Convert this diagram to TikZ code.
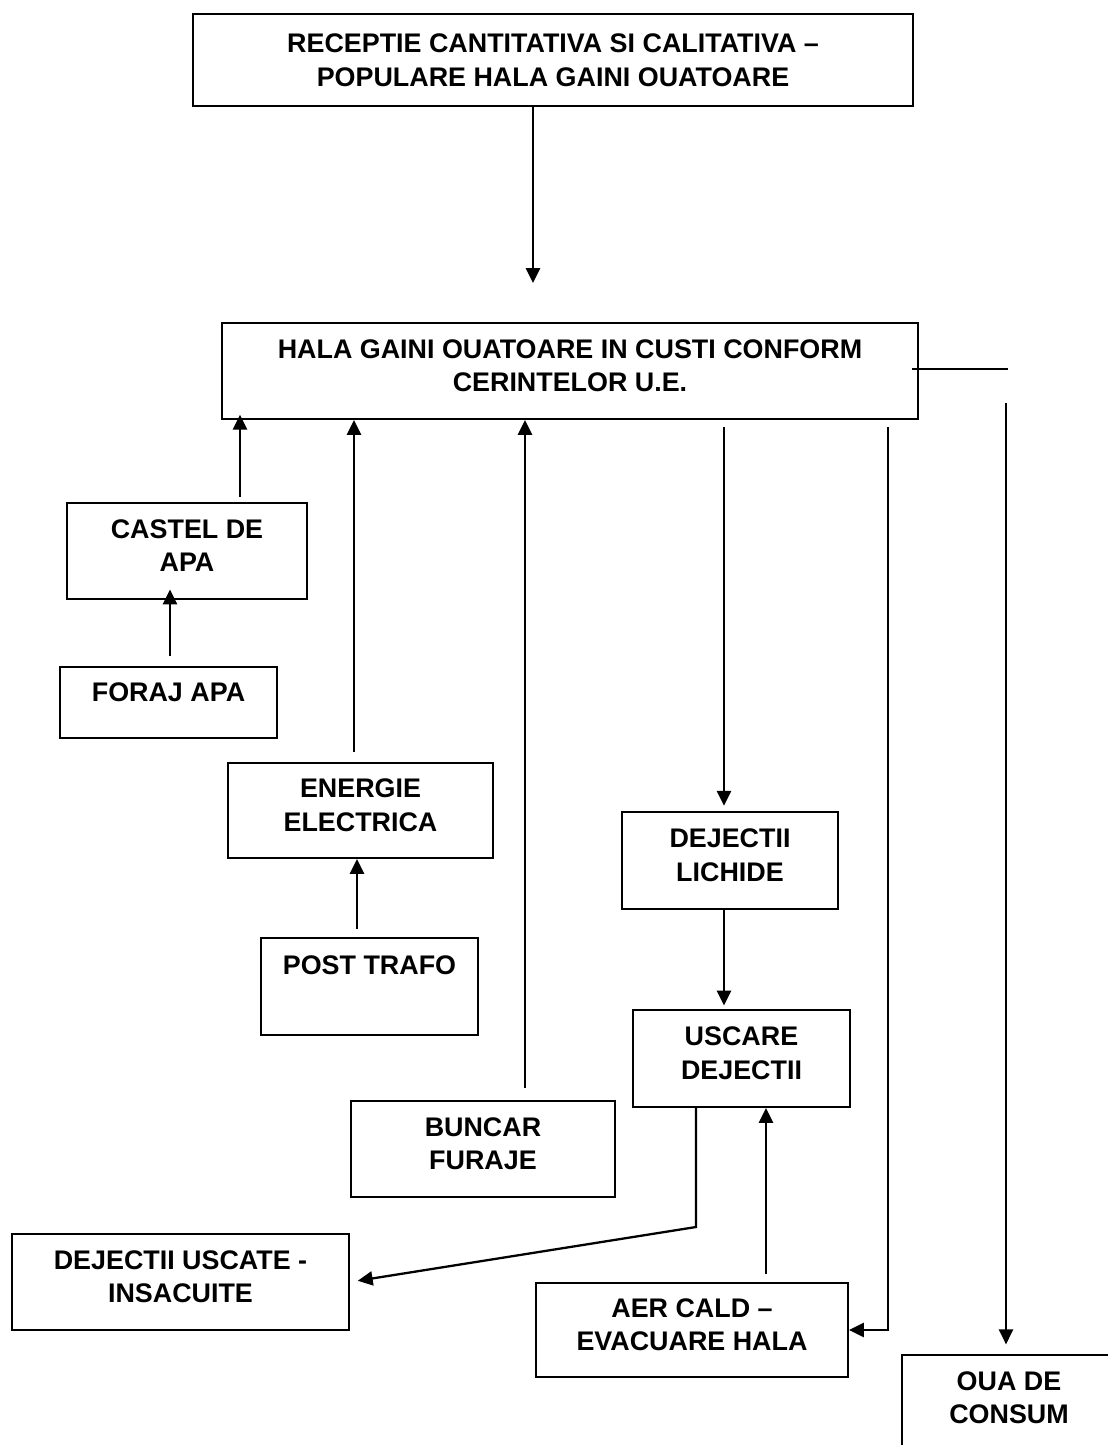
\documentclass[tikz,border=0pt]{standalone}
\usepackage{fontspec}
\setmainfont{Liberation Sans}
\usetikzlibrary{positioning, arrows.meta}
\tikzset{
    base/.style={
        font=\fontsize{15.3}{19}\selectfont\bfseries,
        align=center
    },
    box/.style={
        base,
        rectangle,
        draw=black,
        line width=1.1pt,
        inner sep=0pt,
        text depth=6pt
    },
    flow/.style={
        -{Triangle[length=8.5pt, width=8pt]},
        line width=1.3pt,
        color=black
    }
}

\begin{document}
\begin{tikzpicture}[x=0.02cm, y=-0.02cm]
  \useasboundingbox (0,0) rectangle (1107,1445);

  % Boxes
  \node[box, minimum width=14.4cm, minimum height=1.84cm, text depth=0pt] (rec) at (553,60)
      {RECEPTIE CANTITATIVA SI CALITATIVA --\\POPULARE HALA GAINI OUATOARE};
  \node[box, minimum width=13.92cm, minimum height=1.92cm] (hala) at (570,371)
      {HALA GAINI OUATOARE IN CUSTI CONFORM\\CERINTELOR U.E.};
  \node[box, minimum width=4.8cm, minimum height=1.92cm] (castel) at (187,551)
      {CASTEL DE\\APA};
  \node[box, minimum width=4.34cm, minimum height=1.42cm, text depth=12pt] (foraj) at (168.5,702.5)
      {FORAJ APA};
  \node[box, minimum width=5.3cm, minimum height=1.9cm] (energie) at (360.5,810.5)
      {ENERGIE\\ELECTRICA};
  \node[box, minimum width=4.34cm, minimum height=1.94cm, text depth=24pt] (trafo) at (369.5,986.5)
      {POST TRAFO};
  \node[box, minimum width=5.28cm, minimum height=1.92cm] (buncar) at (483,1149)
      {BUNCAR\\FURAJE};
  \node[box, minimum width=4.32cm, minimum height=1.94cm] (lichide) at (730,860.5)
      {DEJECTII\\LICHIDE};
  \node[box, minimum width=4.34cm, minimum height=1.94cm] (uscare) at (741.5,1058.5)
      {USCARE\\DEJECTII};
  \node[box, minimum width=6.74cm, minimum height=1.92cm] (uscate) at (180.5,1282)
      {DEJECTII USCATE -\\INSACUITE};
  \node[box, minimum width=6.24cm, minimum height=1.88cm] (aer) at (692,1330)
      {AER CALD --\\EVACUARE HALA};
  \node[box, minimum width=4.28cm, minimum height=1.92cm] (oua) at (1009,1403)
      {OUA DE\\CONSUM};

  % Connector columns
  \coordinate (tipRec) at (533,283);
  \coordinate (xCastel) at (240,0);
  \coordinate (xForaj) at (170,0);
  \coordinate (xEnergie) at (354,0);
  \coordinate (xTrafo) at (357,0);
  \coordinate (xBuncar) at (525,0);
  \coordinate (xLichide) at (724,0);
  \coordinate (xUscare) at (696,0);
  \coordinate (bendUscate) at (696,1227);
  \coordinate (xAer) at (766,0);
  \coordinate (xEvac) at (888,0);
  \coordinate (endOua) at (1008,369);
  \coordinate (startOua) at (1006,403);

  % Arrows
  \draw[flow] (rec.south -| tipRec) -- (tipRec);
  \draw[flow, shorten <=3pt, shorten >=-3pt] (castel.north -| xCastel) -- (hala.south -| xCastel);
  \draw[flow, shorten <=5.5pt, shorten >=-6pt] (foraj.north -| xForaj) -- (castel.south -| xForaj);
  \draw[flow, shorten <=6pt] (energie.north -| xEnergie) -- (hala.south -| xEnergie);
  \draw[flow, shorten <=4.5pt] (trafo.north -| xTrafo) -- (energie.south -| xTrafo);
  \draw[flow, shorten <=7pt] (buncar.north -| xBuncar) -- (hala.south -| xBuncar);
  \draw[flow, shorten <=4pt, shorten >=3pt] (hala.south -| xLichide) -- (lichide.north -| xLichide);
  \draw[flow, shorten >=2pt] (lichide.south -| xLichide) -- (uscare.north -| xLichide);
  \draw[flow, shorten >=4.5pt] (uscare.south -| xUscare) -- (bendUscate) -- (uscate.east);
  \draw[flow, shorten <=4.5pt] (aer.north -| xAer) -- (uscare.south -| xAer);
  \draw[flow] (hala.south -| xEvac) ++(0,7) |- (aer.east);
  \draw[line width=1.3pt] ([xshift=-4pt]hala.east |- endOua) -- (endOua);
  \draw[flow, shorten >=5.5pt] (startOua) -- (oua.north -| startOua);
\end{tikzpicture}
\end{document}
